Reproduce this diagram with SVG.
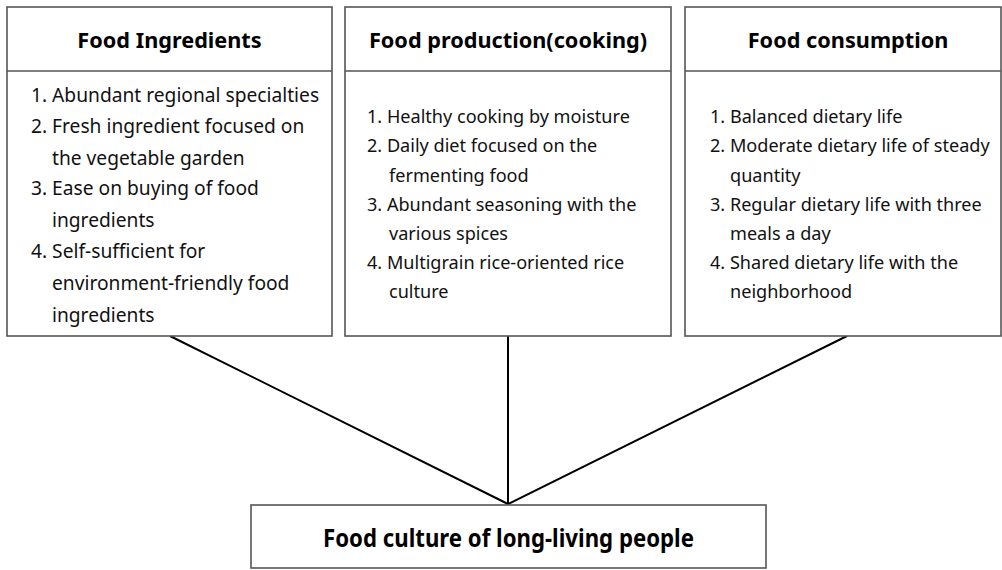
<svg xmlns="http://www.w3.org/2000/svg" width="1002" height="570" viewBox="0 0 1002 570">
<style>
.box{fill:#fff;stroke:#555;stroke-width:1.6}
.div{stroke:#555;stroke-width:1.6}
.h{font-family:"Noto Sans","Open Sans",sans-serif;font-weight:bold;font-size:21.7px;fill:#000;text-anchor:middle}
.t{font-family:"Noto Sans","Open Sans",sans-serif;font-size:18.1px;fill:#111}
.t1{font-family:"Noto Sans","Open Sans",sans-serif;font-size:19.2px;fill:#111}
.c{stroke:#000;stroke-width:2;fill:none}
.b{font-family:"Noto Sans","Open Sans",sans-serif;font-weight:bold;font-size:25px;fill:#000;text-anchor:middle}
</style>
<g id="connectors">
<line class="c" x1="170" y1="336" x2="508" y2="504"/>
<line class="c" x1="508" y1="336" x2="508" y2="504"/>
<line class="c" x1="847" y1="336" x2="508" y2="504"/>
</g>
<g id="node-ingredients">
<rect class="box" x="7" y="7" width="325" height="329"/>
<line class="div" x1="7" y1="71" x2="332" y2="71"/>
<text class="h" x="169.5" y="48">Food Ingredients</text>
<text class="t1" x="31" y="102">1. Abundant regional specialties</text>
<text class="t1" x="31" y="133">2. Fresh ingredient focused on</text>
<text class="t1" x="52" y="165">the vegetable garden</text>
<text class="t1" x="31" y="195">3. Ease on buying of food</text>
<text class="t1" x="52" y="227">ingredients</text>
<text class="t1" x="31" y="258">4. Self-sufficient for</text>
<text class="t1" x="52" y="290">environment-friendly food</text>
<text class="t1" x="52" y="322">ingredients</text>
</g>
<g id="node-production">
<rect class="box" x="345" y="7" width="326" height="329"/>
<line class="div" x1="345" y1="71" x2="671" y2="71"/>
<text class="h" x="508" y="48">Food production(cooking)</text>
<text class="t" x="367" y="123">1. Healthy cooking by moisture</text>
<text class="t" x="367" y="152">2. Daily diet focused on the</text>
<text class="t" x="389" y="182">fermenting food</text>
<text class="t" x="367" y="211">3. Abundant seasoning with the</text>
<text class="t" x="389" y="240">various spices</text>
<text class="t" x="367" y="269">4. Multigrain rice-oriented rice</text>
<text class="t" x="389" y="298">culture</text>
</g>
<g id="node-consumption">
<rect class="box" x="685" y="7" width="316" height="329"/>
<line class="div" x1="685" y1="71" x2="1001" y2="71"/>
<text class="h" x="848" y="48">Food consumption</text>
<text class="t" x="710" y="123">1. Balanced dietary life</text>
<text class="t" x="710" y="152">2. Moderate dietary life of steady</text>
<text class="t" x="730" y="182">quantity</text>
<text class="t" x="710" y="211">3. Regular dietary life with three</text>
<text class="t" x="730" y="240">meals a day</text>
<text class="t" x="710" y="269">4. Shared dietary life with the</text>
<text class="t" x="730" y="298">neighborhood</text>
</g>
<g id="node-culture">
<rect class="box" x="251" y="505" width="515" height="63"/>
<text class="b" x="508.5" y="547" textLength="371" lengthAdjust="spacingAndGlyphs">Food culture of long-living people</text>
</g>
</svg>
